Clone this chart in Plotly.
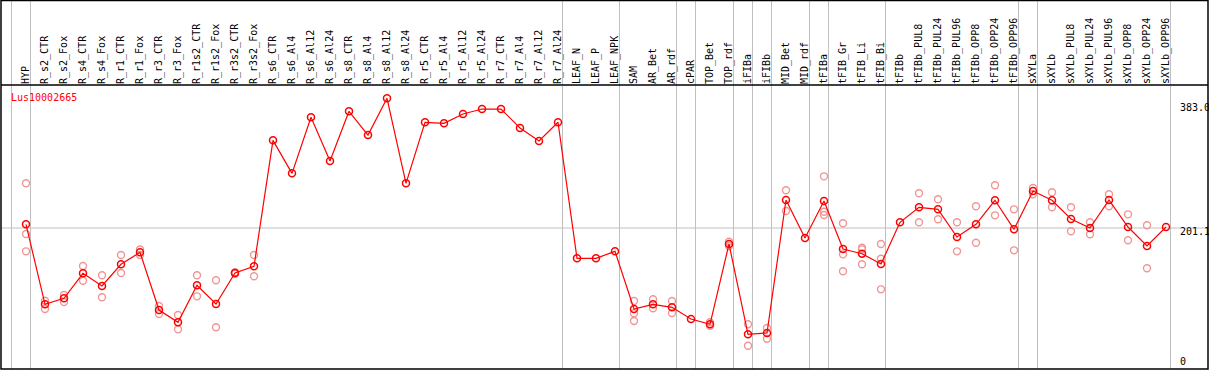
import plotly.graph_objects as go

categories = [
    "HYP", "R_s2_CTR", "R_s2_Fox", "R_s4_CTR", "R_s4_Fox", "R_r1_CTR", "R_r1_Fox",
    "R_r3_CTR", "R_r3_Fox", "R_r1s2_CTR", "R_r1s2_Fox", "R_r3s2_CTR", "R_r3s2_Fox",
    "R_s6_CTR", "R_s6_Al4", "R_s6_Al12", "R_s6_Al24", "R_s8_CTR", "R_s8_Al4",
    "R_s8_Al12", "R_s8_Al24", "R_r5_CTR", "R_r5_Al4", "R_r5_Al12", "R_r5_Al24",
    "R_r7_CTR", "R_r7_Al4", "R_r7_Al12", "R_r7_Al24", "LEAF_N", "LEAF_P", "LEAF_NPK",
    "SAM", "AR_Bet", "AR_rdf", "cPAR", "TOP_Bet", "TOP_rdf", "iFIBa", "iFIBb",
    "MID_Bet", "MID_rdf", "tFIBa", "tFIB_Gr", "tFIB_Li", "tFIB_Bi", "tFIBb",
    "tFIBb_PUL8", "tFIBb_PUL24", "tFIBb_PUL96", "tFIBb_OPP8", "tFIBb_OPP24",
    "tFIBb_OPP96", "sXYLa", "sXYLb", "sXYLb_PUL8", "sXYLb_PUL24", "sXYLb_PUL96",
    "sXYLb_OPP8", "sXYLb_OPP24", "sXYLb_OPP96",
]

mean_values = [
    206.3, 94.1, 102.5, 137.6, 119.8, 150.2, 167.0, 86.1, 68.9, 120.8, 94.5, 138.0, 147.4,
    324.1, 277.8, 356.4, 295.1, 364.8, 331.5, 383.0, 263.8, 349.4, 348.0, 361.0, 368.0,
    368.0, 341.4, 323.1, 349.4, 158.6, 158.6, 168.4,
    87.5, 94.1, 89.9, 73.5, 66.1, 178.7, 52.0, 53.9,
    240.4, 187.1, 239.0, 171.7, 165.1, 150.6, 209.1,
    230.2, 227.3, 188.5, 206.3, 240.0, 199.3,
    253.0, 240.0, 213.7, 201.1, 240.4, 202.5, 175.9, 202.5,
]

replicate_values = [
    [263.8, 192.7, 168.4], [99.2, 87.5], [107.2, 97.3], [147.8, 127.2], [134.8, 103.9],
    [163.3, 138.0], [171.0, 163.3], [91.7, 80.5], [79.1, 59.0], [134.8, 105.3],
    [127.8, 61.9], [139.0, 137.0], [163.3, 133.4],
    [], [], [], [], [], [], [], [], [], [], [], [], [], [], [], [],
    [], [], [],
    [98.7, 81.5, 70.7], [101.1, 88.5], [98.7, 81.9], [], [68.9, 64.1], [181.9, 175.9],
    [66.1, 36.0], [60.9, 45.9],
    [254.0, 225.0], [], [273.6, 224.0, 219.4], [207.7, 164.2, 140.4],
    [173.5, 171.2, 150.2], [178.7, 158.1, 115.1], [],
    [249.8, 209.1], [241.4, 213.3], [209.1, 168.4], [231.6, 180.5], [261.0, 218.9],
    [227.3, 169.8],
    [257.2, 248.4], [251.2, 230.2], [230.2, 196.5], [209.1, 192.3], [248.4, 231.6],
    [220.3, 183.9], [204.9, 144.6], [],
]

# group separators: drawn just after these category indices
separator_after = [-1, 0, 28, 31, 34, 35, 37, 38, 39, 41, 42, 45, 52, 53, 60]

gene_name = "Lus10002665"
y_labels = ["383.0", "201.1", "0"]
reference_value = 201.1

RED = "#ff0000"
PINK = "rgb(240,150,150)"
GRID = "#c0c0c0"
FONT = "DejaVu Sans Mono"

W, H = 1209, 370
ML, MR, MT, MB = 1, 1, 85, 1
plot_w = W - ML - MR
plot_h = H - MT - MB

xmin, xmax = -1.3158, 62.2105
ymin, ymax = 3.37, 401.7

rep_x, rep_y = [], []
for cat, reps in zip(categories, replicate_values):
    for v in reps:
        rep_x.append(cat)
        rep_y.append(v)

fig = go.Figure()
fig.add_trace(go.Scatter(
    x=rep_x, y=rep_y, mode="markers",
    marker=dict(symbol="circle-open", size=7, color=PINK, line=dict(width=1.4, color=PINK)),
    hoverinfo="skip", showlegend=False,
))
fig.add_trace(go.Scatter(
    x=categories, y=mean_values, mode="lines+markers",
    line=dict(color=RED, width=1.2),
    marker=dict(symbol="circle-open", size=7, color=RED, line=dict(width=1.5, color=RED)),
    showlegend=False,
))

def xpaper(idx):
    return (idx - xmin) / (xmax - xmin)

top_paper = (plot_h + MT) / plot_h
shapes = []
for s in separator_after:
    xp = xpaper(s + 0.237)
    shapes.append(dict(type="line", xref="paper", yref="paper", x0=xp, x1=xp,
                       y0=0, y1=top_paper, line=dict(color=GRID, width=1), layer="below"))
shapes.append(dict(type="line", xref="paper", yref="y", x0=0, x1=1,
                   y0=reference_value, y1=reference_value,
                   line=dict(color=GRID, width=1), layer="below"))
# outer frame
shapes.append(dict(type="rect", xref="paper", yref="paper", x0=0, x1=1, y0=0, y1=top_paper - 0.5 / plot_h,
                   line=dict(color="black", width=1.5)))
shapes.append(dict(type="line", xref="paper", yref="paper", x0=0, x1=1, y0=1, y1=1,
                   line=dict(color="black", width=1.5)))

annotations = [
    dict(text=gene_name, xref="paper", yref="paper", x=(9 - ML) / plot_w,
         y=(H - MB - 97) / plot_h, xanchor="left", yanchor="middle", showarrow=False,
         font=dict(family=FONT, size=10, color=RED)),
]
label_py = [107, 231.7, 361.7]
for txt, py in zip(y_labels, label_py):
    annotations.append(dict(text=txt, xref="paper", yref="paper", x=(1178 - ML) / plot_w,
                            y=(H - MB - py) / plot_h, xanchor="left", yanchor="middle",
                            showarrow=False, font=dict(family=FONT, size=10, color="black")))

fig.update_layout(
    width=W, height=H,
    margin=dict(l=ML, r=MR, t=MT, b=MB, pad=0),
    paper_bgcolor="white", plot_bgcolor="white",
    shapes=shapes, annotations=annotations,
    xaxis=dict(type="category", categoryorder="array", categoryarray=categories,
               range=[xmin, xmax], side="top", tickangle=-90,
               tickfont=dict(family=FONT, size=10, color="black"),
               showgrid=False, zeroline=False, showline=False, ticks="", fixedrange=True),
    yaxis=dict(range=[ymin, ymax], showticklabels=False, showgrid=False, zeroline=False,
               showline=False, ticks=""),
    showlegend=False,
)

fig.write_html("out.html", config={"displayModeBar": False})

# remove the default page margin so the figure sits at the window's top-left corner
with open("out.html", "r", encoding="utf-8") as f:
    html = f.read()
html = html.replace("<body>", '<body style="margin:0;padding:0;overflow:hidden">', 1)
with open("out.html", "w", encoding="utf-8") as f:
    f.write(html)
